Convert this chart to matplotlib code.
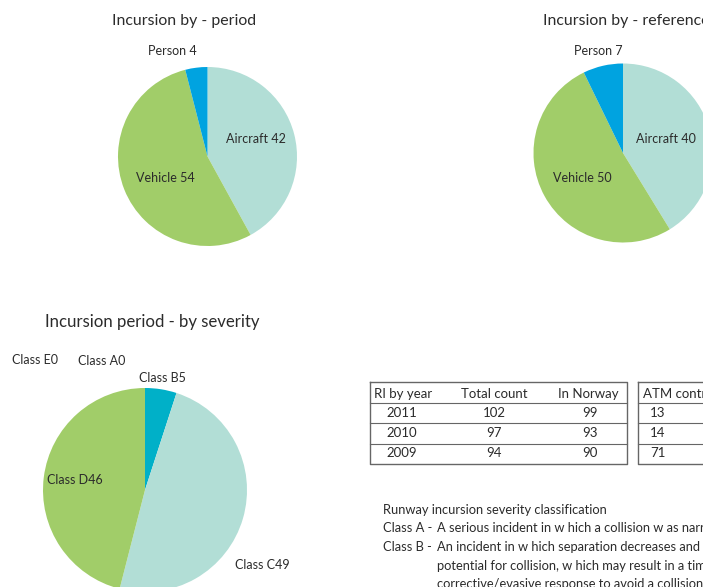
import matplotlib
matplotlib.use("Agg")
import matplotlib.pyplot as plt
from matplotlib import font_manager

# ---------------- data ----------------
period_labels = ["Aircraft", "Vehicle", "Person"]
period_values = [42, 54, 4]

reference_labels = ["Aircraft", "Vehicle", "Person"]
reference_values = [40, 50, 7]

severity_labels = ["Class A", "Class B", "Class C", "Class D", "Class E"]
severity_values = [0, 5, 49, 46, 0]

table_years = ["2011", "2010", "2009"]
table_total = [102, 97, 94]
table_norway = [99, 93, 90]
table_atm = [13, 14, 71]

# ---------------- style ----------------
names = {f.name for f in font_manager.fontManager.ttflist}
fam = "Liberation Sans Narrow" if "Liberation Sans Narrow" in names else "Lato"
plt.rcParams["font.family"] = [fam, "DejaVu Sans"]
TXT = "#2b2b2b"

C_AIR = "#b2ded6"
C_VEH = "#a1cd69"
C_PER = "#00a3e0"
C_B = "#00b0c8"

W, H = 703, 587
fig = plt.figure(figsize=(W / 100, H / 100), dpi=100)
ax = fig.add_axes([0, 0, 1, 1])


def Y(y):
    return H - y


def pie(values, colors, cx, cy, r):
    ax.pie(values, colors=colors, startangle=90, counterclock=False,
           center=(cx, Y(cy)), radius=r, frame=True,
           wedgeprops=dict(linewidth=0))


pie(period_values, [C_AIR, C_VEH, C_PER], 207.5, 156.5, 89.5)
pie(reference_values, [C_AIR, C_VEH, C_PER], 623, 153, 89.5)
pie(severity_values, ["#333333", C_B, C_AIR, C_VEH, "#999999"], 145, 490, 102)

ax.set_xlim(0, W)
ax.set_ylim(0, H)
ax.set_aspect("auto")
ax.axis("off")

# titles
ax.text(184.5, Y(21), "Incursion by - period", fontsize=11.4, color=TXT, ha="center", va="center")
ax.text(543, Y(21), "Incursion by - reference year", fontsize=11.4, color=TXT, ha="left", va="center")
ax.text(45, Y(322), "Incursion period - by severity", fontsize=12.1, color=TXT, ha="left", va="center")

lfs = 9
# pie 1 labels
p1_pos = [(256, 139), (165, 178), (172, 51)]
for (x, y), lab, v in zip(p1_pos, period_labels, period_values):
    ax.text(x, Y(y), f"{lab} {v}", fontsize=lfs, color=TXT, ha="center", va="center")
# pie 2 labels
p2_pos = [(666, 139), (582, 178), (598, 51)]
for (x, y), lab, v in zip(p2_pos, reference_labels, reference_values):
    ax.text(x, Y(y), f"{lab} {v}", fontsize=lfs, color=TXT, ha="center", va="center")
# pie 3 labels
p3_pos = [(102, 361), (162, 378), (262, 565), (75, 480), (35, 360)]
for (x, y), lab, v in zip(p3_pos, severity_labels, severity_values):
    ax.text(x, Y(y), f"{lab}{v}", fontsize=lfs, color=TXT, ha="center", va="center")

# ---------------- tables ----------------
LC = "#666666"
tfs = 9.5


def box(x0, x1, y0, y1, hl):
    ax.plot([x0, x1, x1, x0, x0], [Y(y0), Y(y0), Y(y1), Y(y1), Y(y0)], color=LC, lw=1)
    for yy in hl:
        ax.plot([x0, x1], [Y(yy), Y(yy)], color=LC, lw=0.8)


box(370, 627, 382, 464, [403, 423, 444])
box(638, 760, 382, 464, [403, 423, 444])

ax.text(374, Y(394), "RI by year", fontsize=tfs, color=TXT, ha="left", va="center")
ax.text(494, Y(394), "Total count", fontsize=tfs, color=TXT, ha="center", va="center")
ax.text(619, Y(394), "In Norway", fontsize=tfs, color=TXT, ha="right", va="center")
ax.text(643, Y(394), "ATM contribution", fontsize=tfs, color=TXT, ha="left", va="center")
rows_y = [413, 433, 453]
for yy, yr, t, n, a in zip(rows_y, table_years, table_total, table_norway, table_atm):
    ax.text(402, Y(yy), yr, fontsize=tfs, color=TXT, ha="center", va="center")
    ax.text(494, Y(yy), str(t), fontsize=tfs, color=TXT, ha="center", va="center")
    ax.text(590, Y(yy), str(n), fontsize=tfs, color=TXT, ha="center", va="center")
    ax.text(650, Y(yy), str(a), fontsize=tfs, color=TXT, ha="left", va="center")

# ---------------- classification text ----------------
cfs = 9.25
ax.text(383, Y(510), "Runway incursion severity classification", fontsize=cfs, color=TXT, ha="left", va="center")
ax.text(383, Y(528), "Class A -", fontsize=cfs, color=TXT, ha="left", va="center")
ax.text(437, Y(528), "A serious incident in w hich a collision w as narrow ly avoided.", fontsize=cfs, color=TXT, ha="left", va="center")
ax.text(383, Y(547), "Class B -", fontsize=cfs, color=TXT, ha="left", va="center")
ax.text(437, Y(547), "An incident in w hich separation decreases and there is significant", fontsize=cfs, color=TXT, ha="left", va="center")
ax.text(437, Y(566), "potential for collision, w hich may result in a time critical", fontsize=cfs, color=TXT, ha="left", va="center")
ax.text(437, Y(584), "corrective/evasive response to avoid a collision.", fontsize=cfs, color=TXT, ha="left", va="center")

fig.savefig("out.png", dpi=100)
